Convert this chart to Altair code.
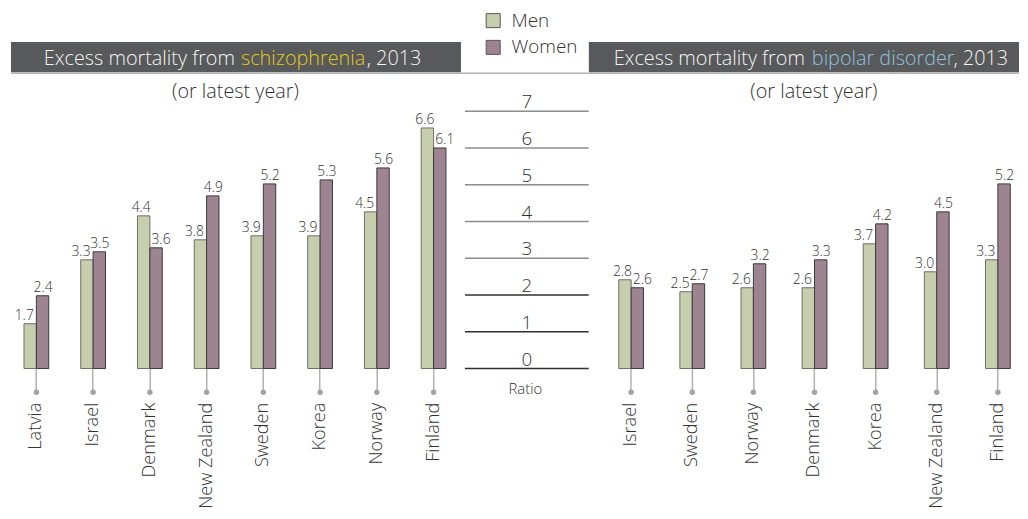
import altair as alt
import pandas as pd

# ---------------- data ----------------
schizo_countries = ["Latvia", "Israel", "Denmark", "New Zealand", "Sweden", "Korea", "Norway", "Finland"]
schizo_men = [1.7, 3.3, 4.4, 3.8, 3.9, 3.9, 4.5, 6.6]
schizo_women = [2.4, 3.5, 3.6, 4.9, 5.2, 5.3, 5.6, 6.1]

bipolar_countries = ["Israel", "Sweden", "Norway", "Denmark", "Korea", "New Zealand", "Finland"]
bipolar_men = [2.8, 2.5, 2.6, 2.6, 3.7, 3.0, 3.3]
bipolar_women = [2.6, 2.7, 3.2, 3.3, 4.2, 4.5, 5.2]

ratio_ticks = [0, 1, 2, 3, 4, 5, 6, 7]
sexes = ["Men", "Women"]

schizo_title = ["Excess mortality from", "schizophrenia", ", 2013"]
bipolar_title = ["Excess mortality from", "bipolar disorder", ", 2013"]
subtitle = "(or latest year)"
axis_unit = "Ratio"

# ---------------- styles ----------------
FONT = "Open Sans"
MEN_FILL = "#c7ceae"
WOMEN_FILL = "#9e8391"
MEN_STROKE = "#6e6e66"
WOMEN_STROKE = "#3a3a3a"
BAR_HEAD = "#58595b"
TXT = "#333333"

H = 361.5                    # plot height shared by all panels
BASE = 0.578                 # value at bar baseline (as drawn in the source)
BAR_TOP = BASE + H / 40.3
AXIS_TOP = H / 37.07
BW = 12.5                    # bar width in px


def long_df(countries, men, women):
    rows = []
    for c, m, w in zip(countries, men, women):
        rows.append({"country": c, "sex": "Men", "value": m})
        rows.append({"country": c, "sex": "Women", "value": w})
    return pd.DataFrame(rows)


def color_enc():
    return alt.Color(
        "sex:N",
        scale=alt.Scale(domain=sexes, range=[MEN_FILL, WOMEN_FILL]),
        legend=alt.Legend(
            title=None, orient="none", legendX=480, legendY=1,
            symbolType="square", symbolSize=200, symbolStrokeColor="#555555",
            symbolStrokeWidth=1, symbolOpacity=1, labelFont=FONT, labelFontSize=19,
            labelFontWeight=300, labelColor=TXT, rowPadding=7, labelOffset=9, padding=0,
        ),
    )


def bar_panel(countries, men, women, width, p_inner, p_outer, align, title_parts, title_pos,
              title_color, sub_x, seg_color_expr):
    df = long_df(countries, men, women)
    cdf = pd.DataFrame({"country": countries})
    xaxis = alt.Axis(
        title=None, domain=False, labelAngle=-90, labelFont=FONT, labelFontSize=18.3,
        labelColor=TXT, tickColor="#b0b0b0", tickWidth=1.5, tickSize=24,
        labelPadding=10, labelFontWeight=300,
    )
    xscale = alt.Scale(domain=countries, paddingInner=p_inner, paddingOuter=p_outer, align=align)
    x = alt.X("country:N", scale=xscale, axis=xaxis, sort=countries)
    yscale = alt.Scale(domain=[BASE, BAR_TOP], zero=False, nice=False)
    y = alt.Y("value:Q", scale=yscale, axis=None, stack=None)

    one = pd.DataFrame({"t": [0]})
    head = alt.Chart(one).mark_rect(color=BAR_HEAD).encode(
        x=alt.value(title_pos[0]), x2=alt.value(title_pos[1]), y=alt.value(32), y2=alt.value(62.5))
    head_line = alt.Chart(one).mark_rule(color="#8c8c8c", strokeWidth=1).encode(
        x=alt.value(title_pos[0]), x2=alt.value(title_pos[2]), y=alt.value(63.5))
    tA = alt.Chart(pd.DataFrame({"t": [title_parts[0]]})).mark_text(
        align="right", baseline="alphabetic", font=FONT, fontSize=20, fontWeight=300, color="#f4f4f4"
    ).encode(x=alt.value(title_pos[3]), y=alt.value(55.5), text="t:N")
    tB = alt.Chart(pd.DataFrame({"t": [title_parts[1]]})).mark_text(
        align="left", baseline="alphabetic", font=FONT, fontSize=20, fontWeight=300, color=title_color
    ).encode(x=alt.value(title_pos[4]), y=alt.value(55.5), text="t:N")
    tC = alt.Chart(pd.DataFrame({"t": [title_parts[2]]})).mark_text(
        align="right", baseline="alphabetic", font=FONT, fontSize=20, fontWeight=300, color="#f4f4f4"
    ).encode(x=alt.value(title_pos[5]), y=alt.value(55.5), text="t:N")
    sub = alt.Chart(pd.DataFrame({"t": [subtitle]})).mark_text(
        align="center", baseline="alphabetic", font=FONT, fontSize=20, fontWeight=300, color=TXT
    ).encode(x=alt.value(sub_x), y=alt.value(88.5), text="t:N")

    segs = alt.Chart(cdf).mark_tick(size=44, thickness=1.5, clip=True).encode(
        x=x, y=alt.value(H),
        color=alt.condition(seg_color_expr, alt.value("#2a2a2a"), alt.value("#8c8c8c")))
    dots = alt.Chart(cdf).mark_circle(size=30, color="#a3a3a3", opacity=1).encode(
        x=x, y=alt.value(H + 24))

    def bar(sex, off, stroke):
        return alt.Chart(df).transform_filter(f"datum.sex == '{sex}'").mark_bar(
            width=BW, xOffset=off, stroke=stroke, strokeWidth=1
        ).encode(x=x, y=y, y2=alt.value(H), color=color_enc())

    bars = [bar("Men", -BW / 2, MEN_STROKE), bar("Women", BW / 2, WOMEN_STROKE)]

    def lab(sex, lower, dx):
        op = "<" if lower else "=="
        return alt.Chart(df).transform_joinaggregate(
            maxv="max(value)", groupby=["country"]
        ).transform_filter(
            f"datum.sex == '{sex}' && datum.value {op} datum.maxv"
        ).mark_text(
            dx=dx, dy=-4, baseline="alphabetic", font=FONT, fontSize=14, fontWeight=300, color=TXT
        ).encode(x=x, y=y, text=alt.Text("value:Q", format=".1f"))

    labels = [lab("Men", True, -BW / 2 - 6), lab("Men", False, -BW / 2 - 2.5),
              lab("Women", True, BW / 2 + 5), lab("Women", False, BW / 2 + 0.5)]

    return alt.layer(dots, *bars, segs, head, head_line, tA, tB, tC, sub, *labels).properties(
        width=width, height=H)


pl = 1 - 25 / 57.23
left = bar_panel(
    schizo_countries, schizo_men, schizo_women, 458, pl, pl / 2, 0.5,
    schizo_title, [3, 457, 458, 229, 235, 417], "#e2c81e", 229.5, "true",
)
pr = 1 - 25 / 61.67
right = bar_panel(
    bipolar_countries, bipolar_men, bipolar_women, 434, pr, (434 / 61.67 - 7 + pr) / 2, 0.774,
    bipolar_title, [0, 434, 434, 218, 225, 423], "#8fc1dd", 227, "datum.country == 'Israel'",
)

# middle axis panel
tdf = pd.DataFrame({"tick": ratio_ticks})
ry = alt.Y("tick:Q", scale=alt.Scale(domain=[0, AXIS_TOP], zero=True, nice=False), axis=None)
mid_rules = alt.Chart(tdf).mark_rule(strokeWidth=1.5).encode(
    x=alt.value(3), x2=alt.value(128), y=ry,
    color=alt.condition("datum.tick >= 3", alt.value("#8c8c8c"), alt.value("#2f2f2f")))
mid_text = alt.Chart(tdf).mark_text(
    dy=-3, baseline="alphabetic", align="center", font=FONT, fontSize=19, fontWeight=300, color=TXT
).encode(x=alt.value(65.5), y=ry, text="tick:N")
mid_unit = alt.Chart(pd.DataFrame({"t": [axis_unit]})).mark_text(
    baseline="alphabetic", align="center", font=FONT, fontSize=15, fontWeight=300, color=TXT
).encode(x=alt.value(64), y=alt.value(H + 26), text="t:N")
mid_line = alt.Chart(pd.DataFrame({"t": [0]})).mark_rule(color="#8c8c8c", strokeWidth=1).encode(
    x=alt.value(0), x2=alt.value(128), y=alt.value(63.5))
mid = alt.layer(mid_line, mid_rules, mid_text, mid_unit).properties(width=128, height=H)

chart = alt.hconcat(left, mid, right, spacing=0, bounds="flush").resolve_scale(
    x="independent", y="independent", color="shared"
).properties(padding=0, background="white").configure_view(stroke=None, fill="white")

chart.save("out.html", embed_options={"renderer": "svg", "actions": False})
